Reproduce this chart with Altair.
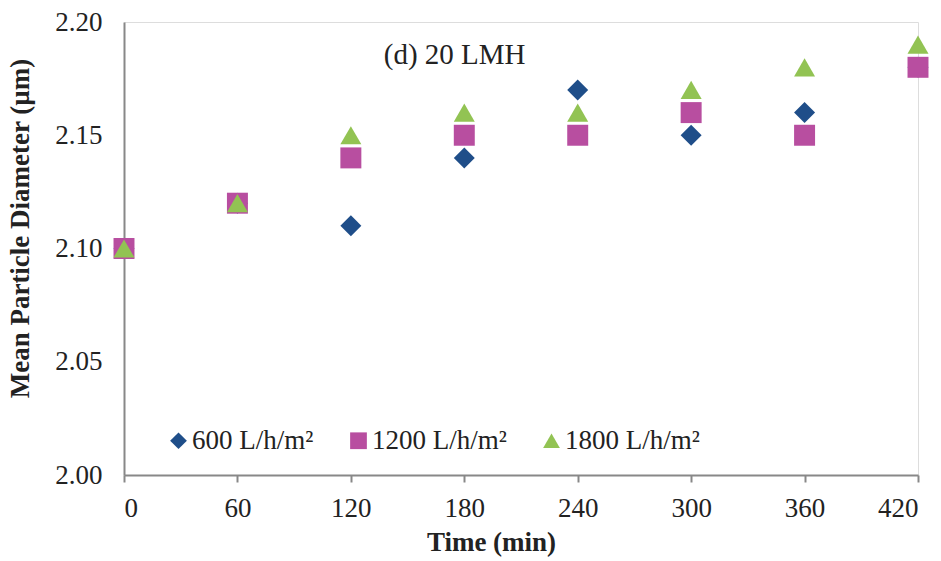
import altair as alt
import pandas as pd

times = [0, 60, 120, 180, 240, 300, 360, 420]
d600 = [2.10, 2.12, 2.11, 2.14, 2.17, 2.15, 2.16, 2.18]
d1200 = [2.10, 2.12, 2.14, 2.15, 2.15, 2.16, 2.15, 2.18]
d1800 = [2.10, 2.12, 2.15, 2.16, 2.16, 2.17, 2.18, 2.19]
series = ["600 L/h/m²", "1200 L/h/m²", "1800 L/h/m²"]
colors = ["#1F4E89", "#B84EA0", "#92C353"]
shapes = ["diamond", "square", "triangle-up"]

rows = []
for name, vals in zip(series, [d600, d1200, d1800]):
    for t, v in zip(times, vals):
        rows.append({"Time": t, "Diameter": v, "Series": name})
df = pd.DataFrame(rows)

FONT = "Liberation Serif"
FS = 27

chart = alt.Chart(df).mark_point(filled=True, opacity=1, size=440).encode(
    x=alt.X("Time:Q", title="Time (min)",
            scale=alt.Scale(domain=[0, 420], nice=False),
            axis=alt.Axis(values=times, grid=False, tickSize=7, tickColor="#888",
                          tickWidth=2, domainColor="#888", domainWidth=2,
                          labelFontSize=FS, labelFont=FONT, labelColor="#222",
                          labelPadding=13, titleFont=FONT, titleFontSize=27,
                          titleFontWeight="bold", titleColor="#222", titlePadding=8,
                          titleX=367, titleAlign="center")),
    y=alt.Y("Diameter:Q", title="Mean Particle Diameter (µm)",
            scale=alt.Scale(domain=[2.0, 2.2], nice=False, zero=False),
            axis=alt.Axis(values=[2.00, 2.05, 2.10, 2.15, 2.20], format=".2f",
                          grid=False, ticks=False, domainColor="#888", domainWidth=2,
                          labelFontSize=FS, labelFont=FONT, labelColor="#222",
                          labelPadding=22, titleFont=FONT, titleFontSize=27,
                          titleFontWeight="bold", titleColor="#222", titlePadding=20,
                          titleY=206, titleAlign="center")),
    color=alt.Color("Series:N", sort=series,
                    scale=alt.Scale(domain=series, range=colors),
                    legend=alt.Legend(title=None, orient="none", direction="horizontal",
                                      legendX=41, legendY=405, padding=0,
                                      columnPadding=31, symbolSize=280,
                                      symbolOpacity=1, labelFont=FONT,
                                      labelFontSize=FS, labelColor="#222",
                                      labelOffset=0)),
    shape=alt.Shape("Series:N", sort=series,
                    scale=alt.Scale(domain=series, range=shapes)),
).properties(
    width=794, height=453,
    title=alt.TitleParams("(d) 20 LMH", anchor="start", dx=377, dy=66,
                          font=FONT, fontSize=29, fontWeight="normal", color="#222"),
    padding={"left": 124, "top": 22, "right": 23, "bottom": 86},
    autosize=alt.AutoSizeParams(type="none"),
).configure_view(stroke="#000", strokeWidth=1.5).configure(background="white")

chart.save("out.html", embed_options={"renderer": "svg", "actions": False})
